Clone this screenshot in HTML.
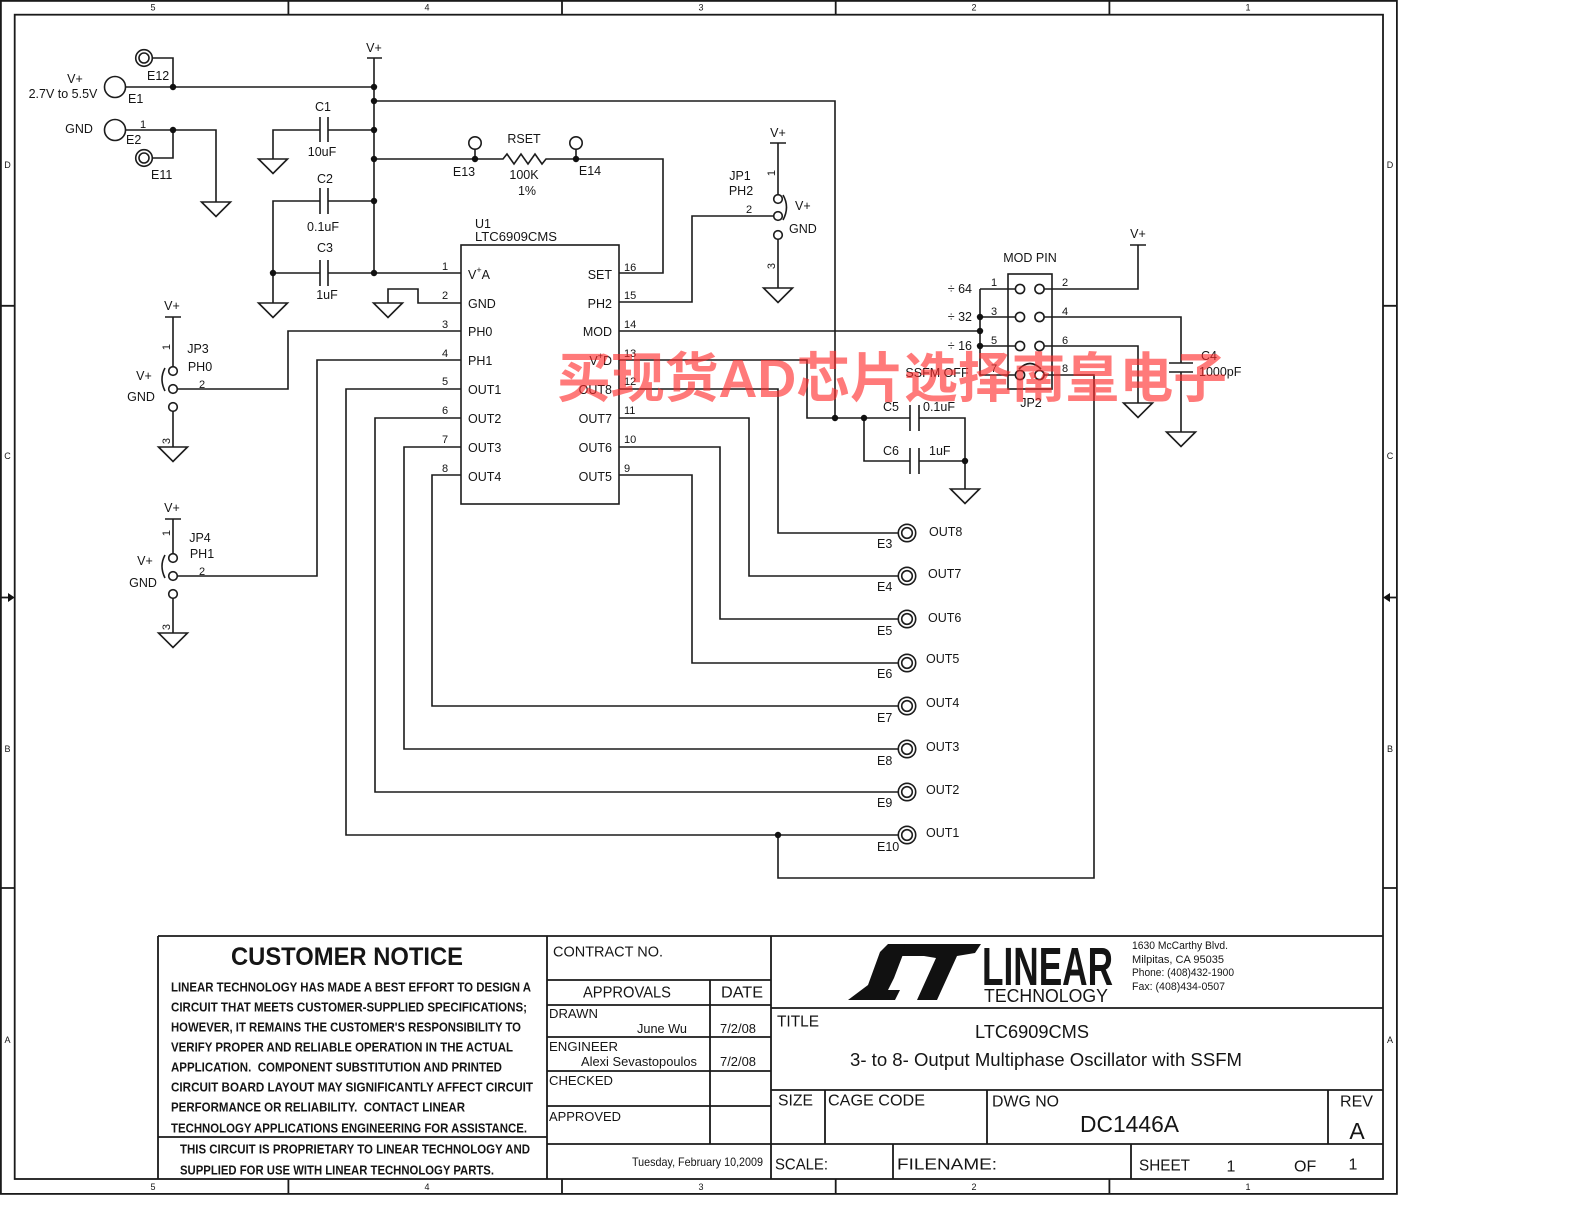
<!DOCTYPE html>
<html><head><meta charset="utf-8">
<style>
html,body{margin:0;padding:0;background:#fff;}
svg{display:block;}
text{font-family:"Liberation Sans",Arial,sans-serif;fill:#151515;dominant-baseline:central;}
.s{font-size:12.5px;}
.n{font-size:11px;}
.b{font-weight:bold;}
.m{text-anchor:middle;}
.e{text-anchor:end;}
</style></head><body>
<svg width="1584" height="1224" viewBox="0 0 1584 1224" xmlns="http://www.w3.org/2000/svg">
<rect x="0" y="0" width="1584" height="1224" fill="#fff"/>

<!-- BORDER -->
<g fill="none" stroke="#1a1a1a" stroke-width="1.8">
<rect x="0.9" y="0.9" width="1396" height="1193"/>
<rect x="14.7" y="14.7" width="1368.3" height="1164.3"/>
<path d="M288.4,0V14.7M562,0V14.7M835.7,0V14.7M1109.4,0V14.7"/>
<path d="M288.4,1179V1194M562,1179V1194M835.7,1179V1194M1109.4,1179V1194"/>
<path d="M0,305.8H14.7M0,888H14.7M1383,305.8H1397M1383,888H1397"/>
<path d="M0,597.5H9M1389,597.5H1397"/>
</g>
<path d="M14.7,597.5L8,593V602Z" fill="#111"/>
<path d="M1383,597.5L1390,593V602Z" fill="#111"/>
<g style="font-size:9px">
<text x="153" y="7.5" class="m">5</text><text x="427" y="7.5" class="m">4</text><text x="701" y="7.5" class="m">3</text><text x="974" y="7.5" class="m">2</text><text x="1248" y="7.5" class="m">1</text>
<text x="153" y="1187" class="m">5</text><text x="427" y="1187" class="m">4</text><text x="701" y="1187" class="m">3</text><text x="974" y="1187" class="m">2</text><text x="1248" y="1187" class="m">1</text>
<text x="7.5" y="165" class="m">D</text><text x="7.5" y="456" class="m">C</text><text x="7.5" y="749" class="m">B</text><text x="7.5" y="1040" class="m">A</text>
<text x="1390" y="165" class="m">D</text><text x="1390" y="456" class="m">C</text><text x="1390" y="749" class="m">B</text><text x="1390" y="1040" class="m">A</text>
</g>

<!-- WIRES -->
<g fill="none" stroke="#1c1c1c" stroke-width="1.6">
<!-- E1/E12/E2/E11 -->
<path d="M152.3,58H173V87"/>
<path d="M125.5,87H374"/>
<path d="M367,58H382M374,58V273"/>
<path d="M125.5,130H216V202"/>
<path d="M152.3,158H173V130"/>
<!-- V+ to top right -->
<path d="M374,101H835V418"/>
<!-- C1 -->
<path d="M374,130H328M320,130H273V159M320,117V142M328,117V142"/>
<!-- RSET row -->
<path d="M374,159H503L507,154L514,164L521,154L528,164L535,154L542,164L546,159H663V273H619"/>
<path d="M475,149V159M576,149V159"/>
<!-- C2 -->
<path d="M374,201H328M320,201H273V273M320,188V214M328,188V214"/>
<!-- C3 -->
<path d="M374,273H328M320,273H273V303M320,260V286M328,260V286"/>
<path d="M374,273H461"/>
<!-- pin2 gnd -->
<path d="M461,303H418V289H388V303"/>
<!-- left pins -->
<path d="M461,331H288V389H177"/>
<path d="M461,360H317V576H177"/>
<path d="M461,389H346V835H898"/>
<path d="M461,418H375V792H898"/>
<path d="M461,447H404V749H898"/>
<path d="M461,475H432V706H898"/>
<!-- IC -->
<rect x="461" y="245" width="158" height="259"/>
<!-- right pins -->
<path d="M619,302H692V216H773.7"/>
<path d="M619,331H980V375H1015.5M980,289V331M980,289H1015.5M980,317H1015.5M980,346H1015.5"/>
<path d="M619,360H807V418H910M919,418H965V489M910,405V431M919,405V431"/>
<path d="M864,418V461H910M919,461H965M910,448V474M919,448V474"/>
<path d="M619,389H778V533H898"/>
<path d="M619,418H749V576H898"/>
<path d="M619,447H720V619H898"/>
<path d="M619,475H692V663H898"/>
<!-- MOD PIN right side -->
<rect x="1008" y="274" width="44" height="115"/>
<path d="M1044,289H1138V245M1130,245H1146"/>
<path d="M1044,317H1181V363M1169,363H1193M1169,372H1193M1181,372V432"/>
<path d="M1044,346H1138V403"/>
<path d="M1044,375H1094V878H778V835"/>
<path d="M1019,369Q1030,358 1041,369"/>
<!-- JP1 -->
<path d="M770,143H786M778,143V194.7M778,239.3V288"/>
<path d="M783,195Q790,207 783,220"/>
<!-- JP3 -->
<path d="M165,317H181M173,317V366.7M173,411.3V447"/>
<path d="M165,368Q159,379 165,391"/>
<!-- JP4 -->
<path d="M165,519H181M173,519V553.7M173,598.3V633"/>
<path d="M165,555Q159,566 165,578"/>
<!-- grounds -->
<path d="M201.5,202H230.5L216,216.5Z M258.5,159H287.5L273,173.5Z M258.5,303H287.5L273,317.5Z M373.5,303H402.5L388,317.5Z M763.5,288H792.5L778,302.5Z M158.5,447H187.5L173,461.5Z M158.5,633H187.5L173,647.5Z M950.5,489H979.5L965,503.5Z M1123.5,403H1152.5L1138,417.5Z M1166.5,432H1195.5L1181,446.5Z"/>
<!-- terminals -->
<circle cx="115" cy="87" r="10.5"/>
<circle cx="115" cy="130" r="10.5"/>
<circle cx="144" cy="58" r="8.3"/><circle cx="144" cy="58" r="5"/>
<circle cx="144" cy="158" r="8.3"/><circle cx="144" cy="158" r="5"/>
<circle cx="475" cy="143" r="6.2"/>
<circle cx="576" cy="143" r="6.2"/>
<circle cx="778" cy="199" r="4.3"/><circle cx="778" cy="216" r="4.3"/><circle cx="778" cy="235" r="4.3"/>
<circle cx="173" cy="371" r="4.3"/><circle cx="173" cy="389" r="4.3"/><circle cx="173" cy="407" r="4.3"/>
<circle cx="173" cy="558" r="4.3"/><circle cx="173" cy="576" r="4.3"/><circle cx="173" cy="594" r="4.3"/>
<circle cx="1020" cy="289" r="4.6"/><circle cx="1039.5" cy="289" r="4.6"/>
<circle cx="1020" cy="317" r="4.6"/><circle cx="1039.5" cy="317" r="4.6"/>
<circle cx="1020" cy="346" r="4.6"/><circle cx="1039.5" cy="346" r="4.6"/>
<circle cx="1020" cy="375" r="4.6"/><circle cx="1039.5" cy="375" r="4.6"/>
<g>
<circle cx="907" cy="533" r="8.7"/><circle cx="907" cy="533" r="5.3"/>
<circle cx="907" cy="576" r="8.7"/><circle cx="907" cy="576" r="5.3"/>
<circle cx="907" cy="619" r="8.7"/><circle cx="907" cy="619" r="5.3"/>
<circle cx="907" cy="663" r="8.7"/><circle cx="907" cy="663" r="5.3"/>
<circle cx="907" cy="706" r="8.7"/><circle cx="907" cy="706" r="5.3"/>
<circle cx="907" cy="749" r="8.7"/><circle cx="907" cy="749" r="5.3"/>
<circle cx="907" cy="792" r="8.7"/><circle cx="907" cy="792" r="5.3"/>
<circle cx="907" cy="835" r="8.7"/><circle cx="907" cy="835" r="5.3"/>
</g>
</g>

<!-- junction dots -->
<g fill="#111">
<circle cx="173" cy="87" r="3.2"/><circle cx="374" cy="87" r="3.2"/><circle cx="374" cy="101" r="3.2"/>
<circle cx="173" cy="130" r="3.2"/><circle cx="374" cy="130" r="3.2"/><circle cx="374" cy="159" r="3.2"/>
<circle cx="374" cy="201" r="3.2"/><circle cx="273" cy="273" r="3.2"/><circle cx="374" cy="273" r="3.2"/>
<circle cx="475" cy="159" r="3.2"/><circle cx="576" cy="159" r="3.2"/>
<circle cx="835" cy="418" r="3.2"/><circle cx="864" cy="418" r="3.2"/><circle cx="965" cy="461" r="3.2"/>
<circle cx="980" cy="317" r="3.2"/><circle cx="980" cy="331" r="3.2"/><circle cx="980" cy="346" r="3.2"/>
<circle cx="778" cy="835" r="3.2"/>
</g>

<!-- SCHEMATIC TEXT -->
<g class="s">
<text x="75" y="79" class="m">V+</text>
<text x="63" y="94" class="m">2.7V to 5.5V</text>
<text x="147" y="76">E12</text>
<text x="128" y="99">E1</text>
<text x="79" y="129" class="m">GND</text>
<text x="143" y="125" class="m n">1</text>
<text x="126" y="140">E2</text>
<text x="151" y="175">E11</text>
<text x="374" y="48" class="m">V+</text>
<text x="323" y="107" class="m">C1</text>
<text x="322" y="152" class="m">10uF</text>
<text x="325" y="179" class="m">C2</text>
<text x="323" y="227" class="m">0.1uF</text>
<text x="325" y="248" class="m">C3</text>
<text x="327" y="295" class="m">1uF</text>
<text x="464" y="172" class="m">E13</text>
<text x="524" y="139" class="m">RSET</text>
<text x="524" y="175" class="m">100K</text>
<text x="527" y="191" class="m">1%</text>
<text x="590" y="171" class="m">E14</text>
<text x="475" y="224">U1</text>
<text x="475" y="237" textLength="82" lengthAdjust="spacingAndGlyphs">LTC6909CMS</text>

<!-- IC pin labels -->
<text x="468" y="275">V<tspan dy="-5" font-size="9">+</tspan><tspan dy="5">A</tspan></text>
<text x="468" y="304">GND</text>
<text x="468" y="332">PH0</text>
<text x="468" y="361">PH1</text>
<text x="468" y="390">OUT1</text>
<text x="468" y="419">OUT2</text>
<text x="468" y="448">OUT3</text>
<text x="468" y="477">OUT4</text>
<text x="612" y="275" class="e">SET</text>
<text x="612" y="304" class="e">PH2</text>
<text x="612" y="332" class="e">MOD</text>
<text x="612" y="361" class="e">V<tspan dy="-5" font-size="9">+</tspan><tspan dy="5">D</tspan></text>
<text x="612" y="390" class="e">OUT8</text>
<text x="612" y="419" class="e">OUT7</text>
<text x="612" y="448" class="e">OUT6</text>
<text x="612" y="477" class="e">OUT5</text>
<g class="n">
<text x="445" y="267" class="m">1</text><text x="445" y="296" class="m">2</text><text x="445" y="325" class="m">3</text><text x="445" y="354" class="m">4</text>
<text x="445" y="382" class="m">5</text><text x="445" y="411" class="m">6</text><text x="445" y="440" class="m">7</text><text x="445" y="469" class="m">8</text>
<text x="624" y="268">16</text><text x="624" y="296">15</text><text x="624" y="325">14</text><text x="624" y="354">13</text>
<text x="624" y="382">12</text><text x="624" y="411">11</text><text x="624" y="440">10</text><text x="624" y="469">9</text>
</g>

<!-- JP1 -->
<text x="778" y="133" class="m">V+</text>
<text x="740" y="176" class="m">JP1</text>
<text x="741" y="191" class="m">PH2</text>
<text x="749" y="210" class="n m">2</text>
<text x="795" y="206">V+</text>
<text x="789" y="229">GND</text>
<text class="n m" transform="translate(772,173) rotate(-90)">1</text>
<text class="n m" transform="translate(772,266) rotate(-90)">3</text>

<!-- JP3 -->
<text x="172" y="306" class="m">V+</text>
<text x="198" y="349" class="m">JP3</text>
<text x="200" y="367" class="m">PH0</text>
<text x="202" y="385" class="n m">2</text>
<text x="144" y="376" class="m">V+</text>
<text x="141" y="397" class="m">GND</text>
<text class="n m" transform="translate(167,347) rotate(-90)">1</text>
<text class="n m" transform="translate(167,441) rotate(-90)">3</text>

<!-- JP4 -->
<text x="172" y="508" class="m">V+</text>
<text x="200" y="538" class="m">JP4</text>
<text x="202" y="554" class="m">PH1</text>
<text x="202" y="572" class="n m">2</text>
<text x="145" y="561" class="m">V+</text>
<text x="143" y="583" class="m">GND</text>
<text class="n m" transform="translate(167,533) rotate(-90)">1</text>
<text class="n m" transform="translate(167,627) rotate(-90)">3</text>

<!-- MOD PIN -->
<text x="1030" y="258" class="m">MOD PIN</text>
<text x="972" y="289" class="e">÷ 64</text>
<text x="972" y="317" class="e">÷ 32</text>
<text x="972" y="346" class="e">÷ 16</text>
<text x="937" y="373" class="m">SSFM OFF</text>
<g class="n">
<text x="994" y="283" class="m">1</text><text x="994" y="312" class="m">3</text><text x="994" y="341" class="m">5</text><text x="994" y="369" class="m">7</text>
<text x="1065" y="283" class="m">2</text><text x="1065" y="312" class="m">4</text><text x="1065" y="341" class="m">6</text><text x="1065" y="369" class="m">8</text>
</g>
<text x="1031" y="403" class="m">JP2</text>
<text x="1138" y="234" class="m">V+</text>
<text x="1201" y="356">C4</text>
<text x="1199" y="372">1000pF</text>
<text x="891" y="407" class="m">C5</text>
<text x="923" y="407">0.1uF</text>
<text x="891" y="451" class="m">C6</text>
<text x="929" y="451">1uF</text>

<!-- outputs -->
<text x="929" y="532">OUT8</text><text x="877" y="544">E3</text>
<text x="928" y="574">OUT7</text><text x="877" y="587">E4</text>
<text x="928" y="618">OUT6</text><text x="877" y="631">E5</text>
<text x="926" y="659">OUT5</text><text x="877" y="674">E6</text>
<text x="926" y="703">OUT4</text><text x="877" y="718">E7</text>
<text x="926" y="747">OUT3</text><text x="877" y="761">E8</text>
<text x="926" y="790">OUT2</text><text x="877" y="803">E9</text>
<text x="926" y="833">OUT1</text><text x="877" y="847">E10</text>
</g>

<!-- TITLE BLOCK -->
<g fill="none" stroke="#1a1a1a" stroke-width="1.8">
<path d="M158,936H1383M158,936V1179M547,936V1179M771,936V1179"/>
<path d="M158,1137H547"/>
<path d="M547,980H771M547,1005H771M547,1037H771M547,1071H771M547,1106H771M547,1144H771M710,980V1144"/>
<path d="M771,1008H1383M771,1090H1383M771,1144H1383"/>
<path d="M825,1090V1144M987,1090V1144M1328,1090V1144M893,1144V1179M1131,1144V1179"/>
</g>

<text x="347" y="957" class="m b" style="font-size:25px" textLength="232" lengthAdjust="spacingAndGlyphs">CUSTOMER NOTICE</text>
<g class="b" style="font-size:13px">
<text x="171" y="987" textLength="360" lengthAdjust="spacingAndGlyphs">LINEAR TECHNOLOGY HAS MADE A BEST EFFORT TO DESIGN A</text>
<text x="171" y="1007" textLength="356" lengthAdjust="spacingAndGlyphs">CIRCUIT THAT MEETS CUSTOMER-SUPPLIED SPECIFICATIONS;</text>
<text x="171" y="1027" textLength="350" lengthAdjust="spacingAndGlyphs">HOWEVER, IT REMAINS THE CUSTOMER'S RESPONSIBILITY TO</text>
<text x="171" y="1047" textLength="342" lengthAdjust="spacingAndGlyphs">VERIFY PROPER AND RELIABLE OPERATION IN THE ACTUAL</text>
<text x="171" y="1067" textLength="331" lengthAdjust="spacingAndGlyphs" xml:space="preserve">APPLICATION.  COMPONENT SUBSTITUTION AND PRINTED</text>
<text x="171" y="1087" textLength="362" lengthAdjust="spacingAndGlyphs">CIRCUIT BOARD LAYOUT MAY SIGNIFICANTLY AFFECT CIRCUIT</text>
<text x="171" y="1107" textLength="294" lengthAdjust="spacingAndGlyphs" xml:space="preserve">PERFORMANCE OR RELIABILITY.  CONTACT LINEAR</text>
<text x="171" y="1128" textLength="356" lengthAdjust="spacingAndGlyphs">TECHNOLOGY APPLICATIONS ENGINEERING FOR ASSISTANCE.</text>
<text x="180" y="1149" textLength="350" lengthAdjust="spacingAndGlyphs">THIS CIRCUIT IS PROPRIETARY TO LINEAR TECHNOLOGY AND</text>
<text x="180" y="1170" textLength="314" lengthAdjust="spacingAndGlyphs">SUPPLIED FOR USE WITH LINEAR TECHNOLOGY PARTS.</text>
</g>

<g style="font-size:15px">
<text x="553" y="952" textLength="110" lengthAdjust="spacingAndGlyphs">CONTRACT NO.</text>
<text x="583" y="993" style="font-size:16px" textLength="88" lengthAdjust="spacingAndGlyphs">APPROVALS</text>
<text x="721" y="993" style="font-size:16px" textLength="42" lengthAdjust="spacingAndGlyphs">DATE</text>
</g>
<g style="font-size:12.5px">
<text x="549" y="1014" textLength="49" lengthAdjust="spacingAndGlyphs">DRAWN</text>
<text x="637" y="1029" textLength="50" lengthAdjust="spacingAndGlyphs">June Wu</text>
<text x="720" y="1029" textLength="36" lengthAdjust="spacingAndGlyphs">7/2/08</text>
<text x="549" y="1047" textLength="69" lengthAdjust="spacingAndGlyphs">ENGINEER</text>
<text x="581" y="1062" textLength="116" lengthAdjust="spacingAndGlyphs">Alexi Sevastopoulos</text>
<text x="720" y="1062" textLength="36" lengthAdjust="spacingAndGlyphs">7/2/08</text>
<text x="549" y="1081" textLength="64" lengthAdjust="spacingAndGlyphs">CHECKED</text>
<text x="549" y="1117" textLength="72" lengthAdjust="spacingAndGlyphs">APPROVED</text>
<text x="632" y="1162" style="font-size:12px" textLength="131" lengthAdjust="spacingAndGlyphs">Tuesday, February 10,2009</text>
</g>
<g style="font-size:16px">
<text x="777" y="1022" textLength="42" lengthAdjust="spacingAndGlyphs">TITLE</text>
<text x="975" y="1032" style="font-size:18px" textLength="114" lengthAdjust="spacingAndGlyphs">LTC6909CMS</text>
<text x="850" y="1060" style="font-size:18px" textLength="392" lengthAdjust="spacingAndGlyphs">3- to 8- Output Multiphase Oscillator with SSFM</text>
<text x="778" y="1101" textLength="35" lengthAdjust="spacingAndGlyphs">SIZE</text>
<text x="828" y="1101" textLength="97" lengthAdjust="spacingAndGlyphs">CAGE CODE</text>
<text x="992" y="1102" textLength="67" lengthAdjust="spacingAndGlyphs">DWG NO</text>
<text x="1080" y="1124" style="font-size:23px" textLength="99" lengthAdjust="spacingAndGlyphs">DC1446A</text>
<text x="1340" y="1102" textLength="33" lengthAdjust="spacingAndGlyphs">REV</text>
<text x="1357" y="1131" class="m" style="font-size:23px">A</text>
<text x="775" y="1165" textLength="53" lengthAdjust="spacingAndGlyphs">SCALE:</text>
<text x="897" y="1165" textLength="100" lengthAdjust="spacingAndGlyphs">FILENAME:</text>
<text x="1139" y="1166" textLength="51" lengthAdjust="spacingAndGlyphs">SHEET</text>
<text x="1231" y="1167" class="m">1</text>
<text x="1294" y="1167">OF</text>
<text x="1353" y="1165" class="m">1</text>
</g>

<!-- LOGO -->
<g fill="#111">
<path d="M848,1000L868,985L880,952L888,944L907,944L894,978L888,990L900,990L895,1000Z"/>
<path d="M905,944H981L975,953L957,956L937,1000H917L936,958L924,956H902Z"/>
</g>
<text x="982" y="985" class="b" style="font-size:54px;dominant-baseline:auto" textLength="131" lengthAdjust="spacingAndGlyphs">LINEAR</text>
<text x="984" y="996" style="font-size:18px" textLength="124" lengthAdjust="spacingAndGlyphs">TECHNOLOGY</text>
<g style="font-size:11px">
<text x="1132" y="946" textLength="96" lengthAdjust="spacingAndGlyphs">1630 McCarthy Blvd.</text>
<text x="1132" y="960" textLength="92" lengthAdjust="spacingAndGlyphs">Milpitas, CA 95035</text>
<text x="1132" y="973" textLength="102" lengthAdjust="spacingAndGlyphs">Phone: (408)432-1900</text>
<text x="1132" y="987" textLength="93" lengthAdjust="spacingAndGlyphs">Fax: (408)434-0507</text>
</g>

<!-- WATERMARK -->
<text x="557" y="379" style="font-family:'Liberation Sans','Noto Sans CJK SC',sans-serif;font-size:54px;font-weight:bold;fill:#ff2a2a;opacity:0.62" textLength="670" lengthAdjust="spacingAndGlyphs">买现货AD芯片选择南皇电子</text>
</svg>
</body></html>
